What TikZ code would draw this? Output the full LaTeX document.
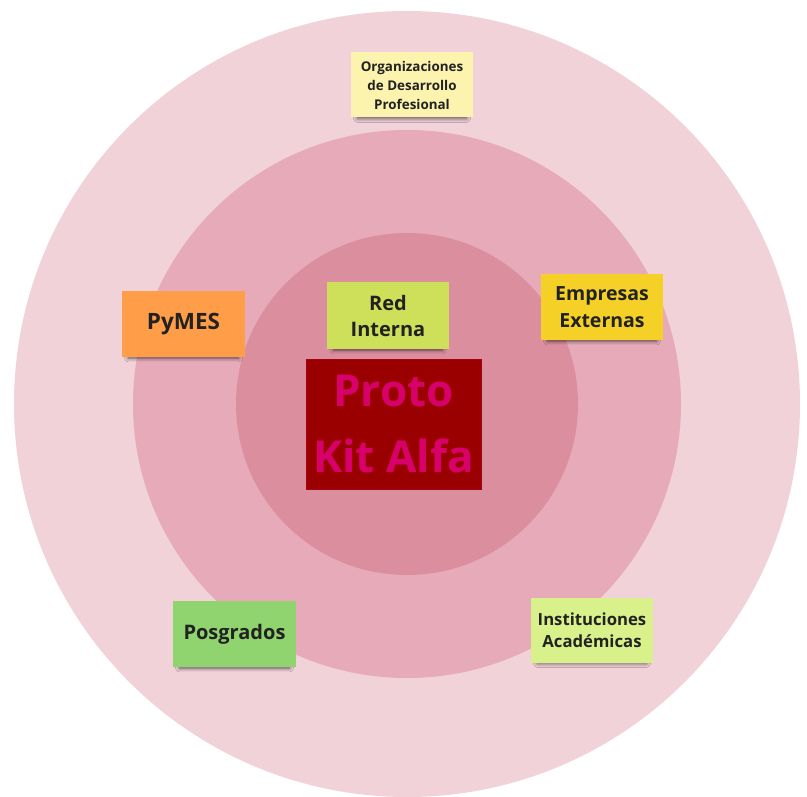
\documentclass[tikz,border=0pt]{standalone}
\usepackage{fontspec}
\setmainfont{Open Sans}
\usetikzlibrary{shadows.blur}
\definecolor{ringA}{RGB}{240,210,216}
\definecolor{ringB}{RGB}{230,170,185}
\definecolor{ringC}{RGB}{218,142,158}
\definecolor{noteYellow}{RGB}{251,243,174}
\definecolor{noteOrange}{RGB}{255,157,72}
\definecolor{noteLime}{RGB}{206,224,90}
\definecolor{noteGold}{RGB}{245,209,40}
\definecolor{noteGreen}{RGB}{143,212,111}
\definecolor{notePale}{RGB}{216,241,138}
\definecolor{coreRed}{RGB}{155,0,0}
\definecolor{coreText}{RGB}{216,0,106}
\definecolor{ink}{RGB}{34,34,34}
\tikzset{
  sticky/.style={rectangle, inner sep=0pt, align=center, text=ink,
    font=\bfseries, minimum width=122pt, minimum height=65pt,
    blur shadow={shadow xshift=0pt, shadow yshift=-5pt, shadow scale=0.9,
      shadow blur radius=4pt, shadow opacity=60}},
}
\begin{document}
\begin{tikzpicture}[x=1pt,y=-1pt]
\useasboundingbox (0,0) rectangle (807,797);
% concentric rings
\fill[ringA] (407,404) circle (393);
\fill[ringB] (407,404) circle (274);
\fill[ringC] (407,404) circle (171);
% core box
\node[rectangle, fill=coreRed, draw=coreRed!80!coreText, minimum width=175pt, minimum height=130pt,
  inner sep=0pt, text=coreText, font=\fontsize{44}{66}\selectfont\bfseries, align=center]
  (core) at (393.5,424) {Proto\\Kit Alfa};
% stakeholder notes
\node[sticky, fill=noteYellow, font=\fontsize{13.4}{19}\selectfont\bfseries] (org) at (412,85)
  {Organizaciones\\de Desarrollo\\Profesional};
\node[sticky, fill=noteOrange, minimum width=123pt, minimum height=66pt, font=\fontsize{22.5}{26}\selectfont\bfseries] (pymes) at (183.5,324) {PyMES};
\node[sticky, fill=noteLime, minimum height=67pt, font=\fontsize{20}{26}\selectfont\bfseries] (red) at (388,315.5) {Red\\Interna};
\node[sticky, fill=noteGold, minimum height=66pt, font=\fontsize{19.5}{27}\selectfont\bfseries] (emp) at (602,307) {Empresas\\Externas};
\node[sticky, fill=noteGreen, minimum width=123pt, minimum height=66pt, font=\fontsize{20}{24}\selectfont\bfseries] (pos) at (234.5,634) {Posgrados};
\node[sticky, fill=notePale, font=\fontsize{16.7}{22}\selectfont\bfseries] (inst) at (592,630) {Instituciones\\Académicas};
\end{tikzpicture}
\end{document}
